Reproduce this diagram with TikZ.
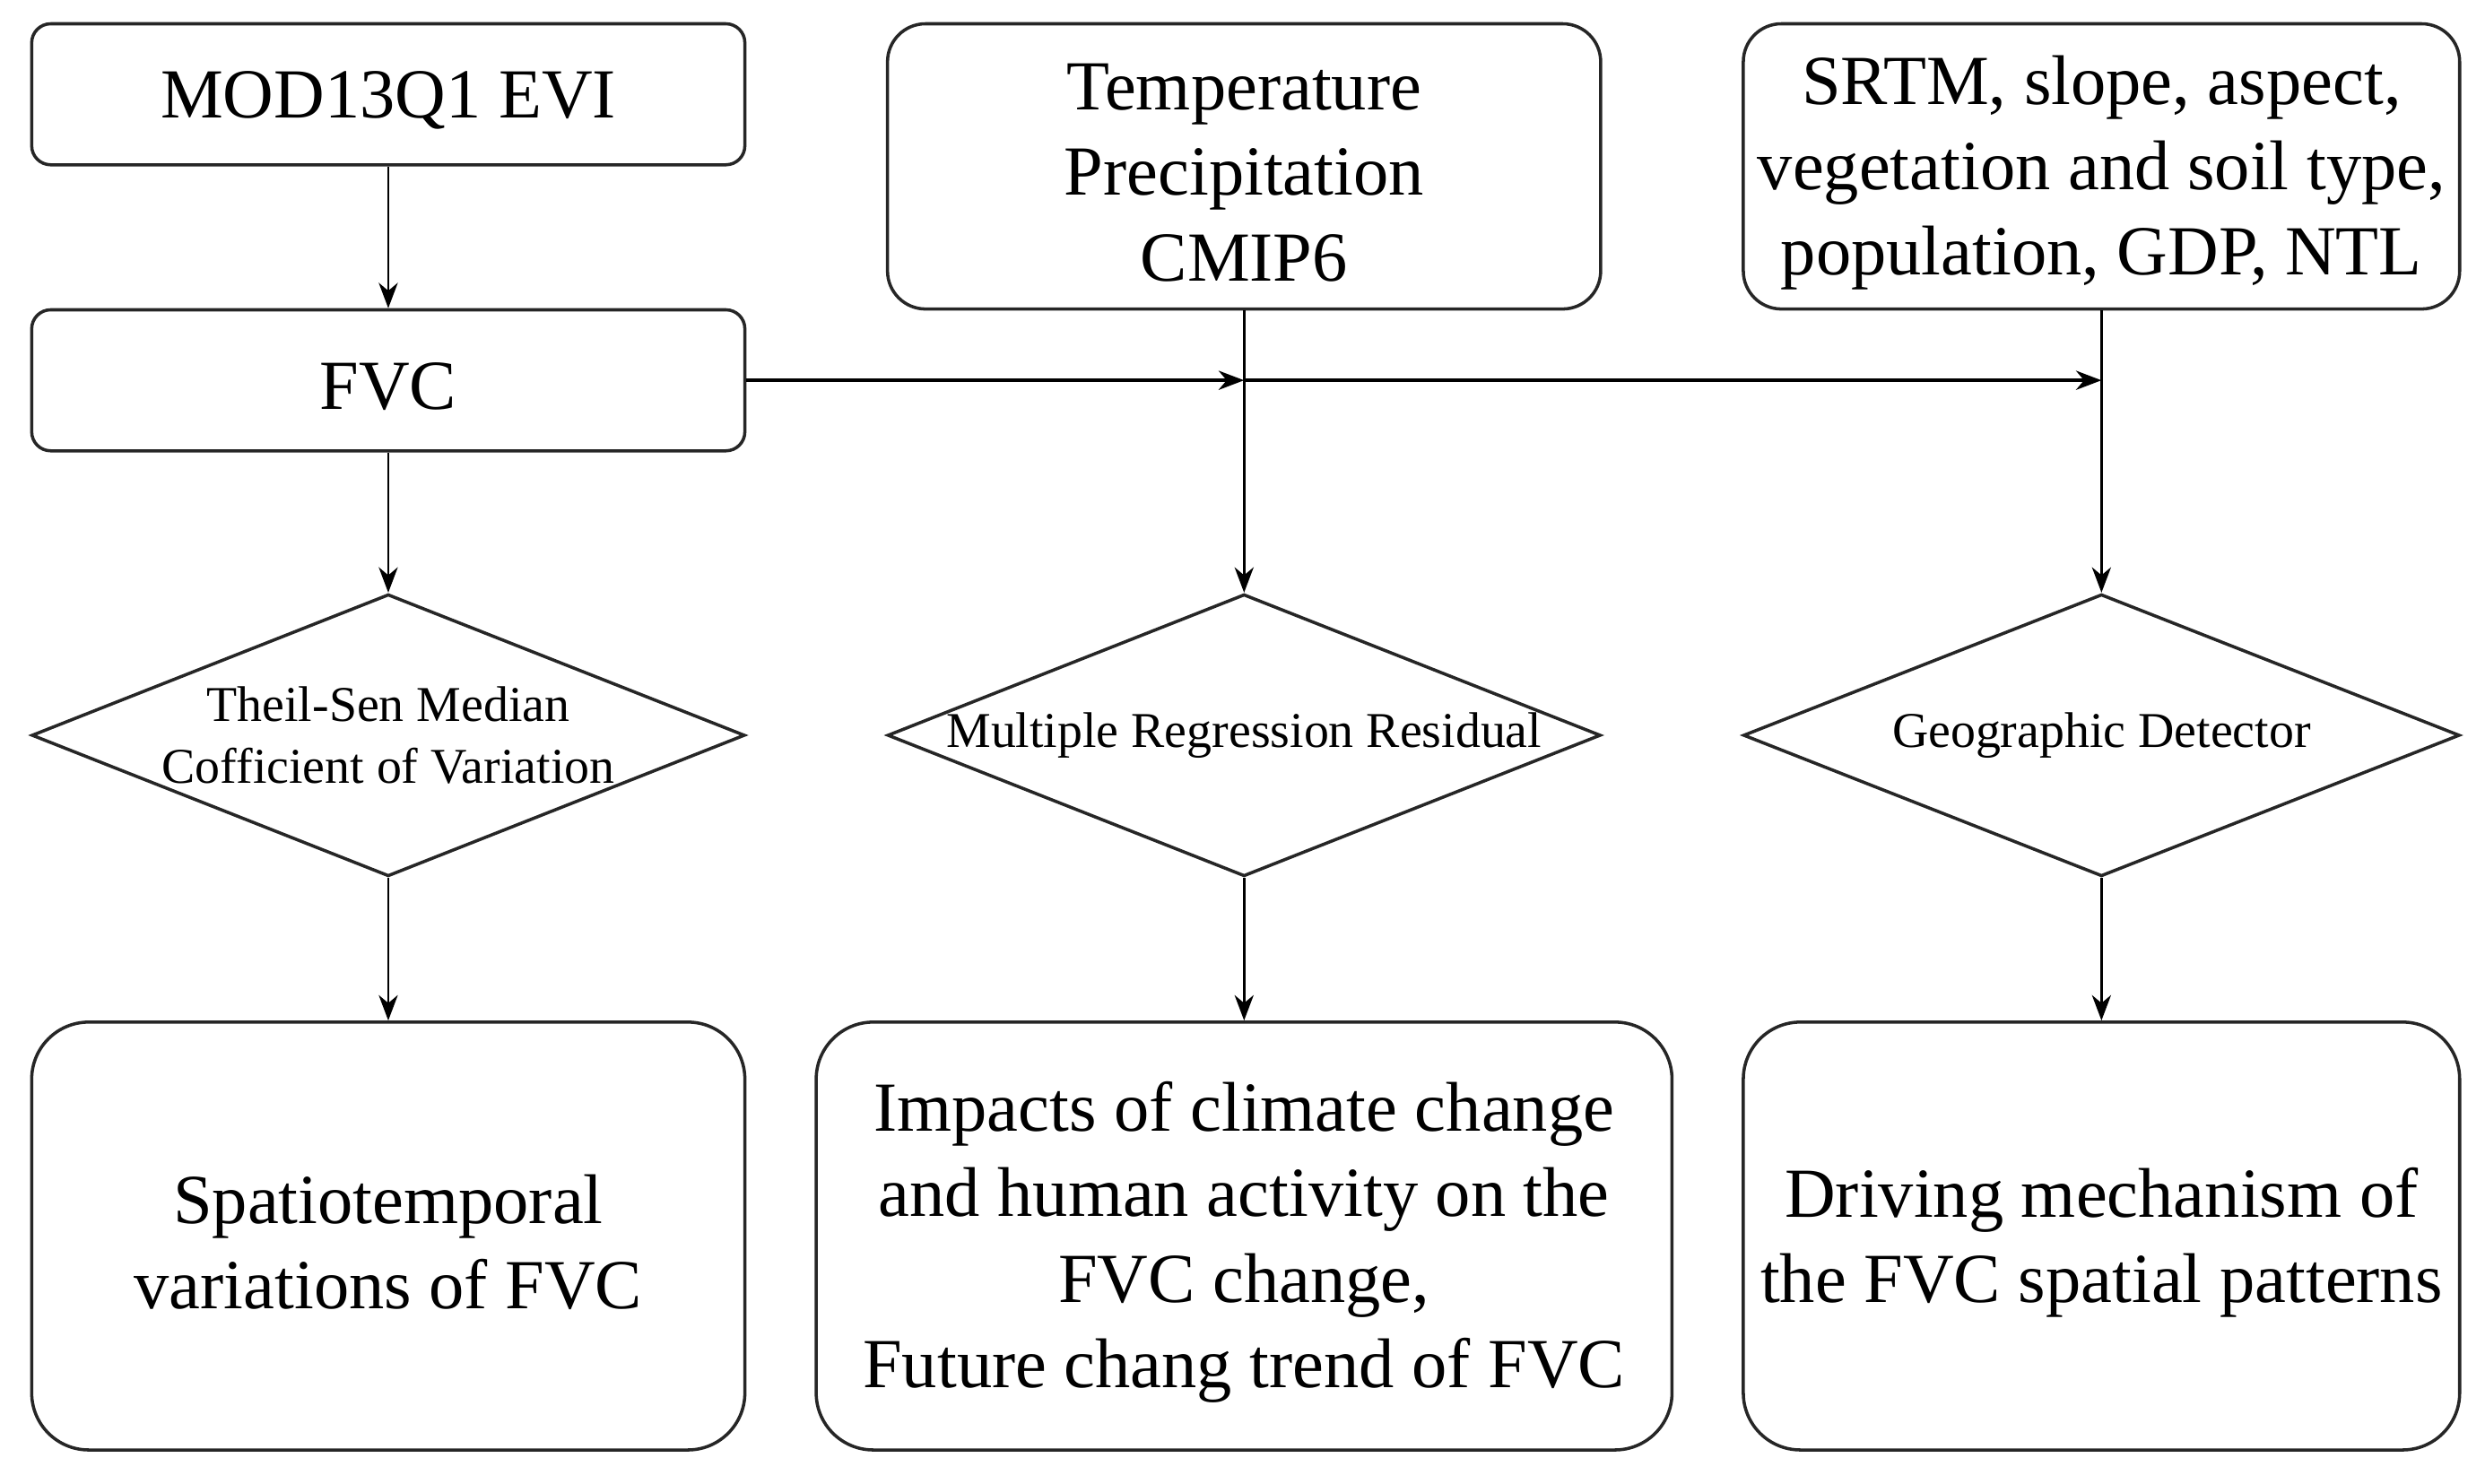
\documentclass[tikz,border=0pt]{standalone}
\usepackage{fontspec}
\setmainfont{Liberation Serif}
\usetikzlibrary{shapes.geometric,arrows.meta}
\begin{document}
\begin{tikzpicture}[x=0.5pt,y=-0.5pt,
  btext/.style={align=center,inner sep=0pt,yshift=-2pt,font=\fontsize{22.2}{27}\selectfont},
  box/.style={draw=black!85,line width=1pt,rectangle,inner sep=0pt},
  smallbox/.style={box,rounded corners=6pt,minimum width=225pt,minimum height=44.5pt},
  tallbox/.style={box,rounded corners=12pt,minimum height=90pt},
  lowbox/.style={box,rounded corners=18pt,minimum height=135pt},
  dia/.style={draw=black!85,line width=1pt,diamond,inner sep=0pt,minimum height=89pt},
  dtext/.style={align=center,font=\fontsize{15.8}{19.5}\selectfont},
  conn/.style={line width=0.8pt,-{Stealth[length=8pt,width=6pt,inset=2.5pt]}},
  hconn/.style={line width=1.2pt,-{Stealth[length=8pt,width=6pt,inset=2.5pt]}}
]
\useasboundingbox (0,0) rectangle (1568,936);
\fill[white] (0,0) rectangle (1568,936);

\node[smallbox,label={[btext]center:MOD13Q1 EVI}] (mod) at (245,59.5) {};
\node[smallbox,label={[btext]center:FVC}] (fvc) at (245,240) {};
\node[tallbox,minimum width=225pt,label={[btext]center:Temperature\\Precipitation\\CMIP6}] (clim) at (785,105) {};
\node[tallbox,minimum width=226pt,label={[btext]center:SRTM, slope, aspect,\\vegetation and soil type,\\population, GDP, NTL}] (srtm) at (1326,105) {};

\node[dia,minimum width=225pt,label={[dtext]center:Theil-Sen Median\\Cofficient of Variation}] (d1) at (245,464) {};
\node[dia,minimum width=225pt,label={[dtext]center:Multiple Regression Residual}] (d2) at (785,464) {};
\node[dia,minimum width=226pt,label={[dtext]center:Geographic Detector}] (d3) at (1326,464) {};

\node[lowbox,minimum width=225pt,label={[btext]center:Spatiotemporal\\variations of FVC}] (b1) at (245,780) {};
\node[lowbox,minimum width=270pt,label={[btext]center:Impacts of climate change\\and human activity on the\\FVC change,\\Future chang trend of FVC}] (b2) at (785,780) {};
\node[lowbox,minimum width=226pt,label={[btext]center:Driving mechanism of\\the FVC spatial patterns}] (b3) at (1326,780) {};

\coordinate (j1) at (785,240);
\coordinate (j2) at (1326,240);

\draw[conn] (mod) -- (fvc);
\draw[conn] (fvc) -- (d1);
\draw[conn] (clim) -- (d2);
\draw[conn] (srtm) -- (d3);
\draw[hconn] (fvc.east) -- (j1);
\draw[hconn] (j1) -- (j2);
\draw[conn] (d1) -- (b1);
\draw[conn] (d2) -- (b2);
\draw[conn] (d3) -- (b3);
\end{tikzpicture}
\end{document}
